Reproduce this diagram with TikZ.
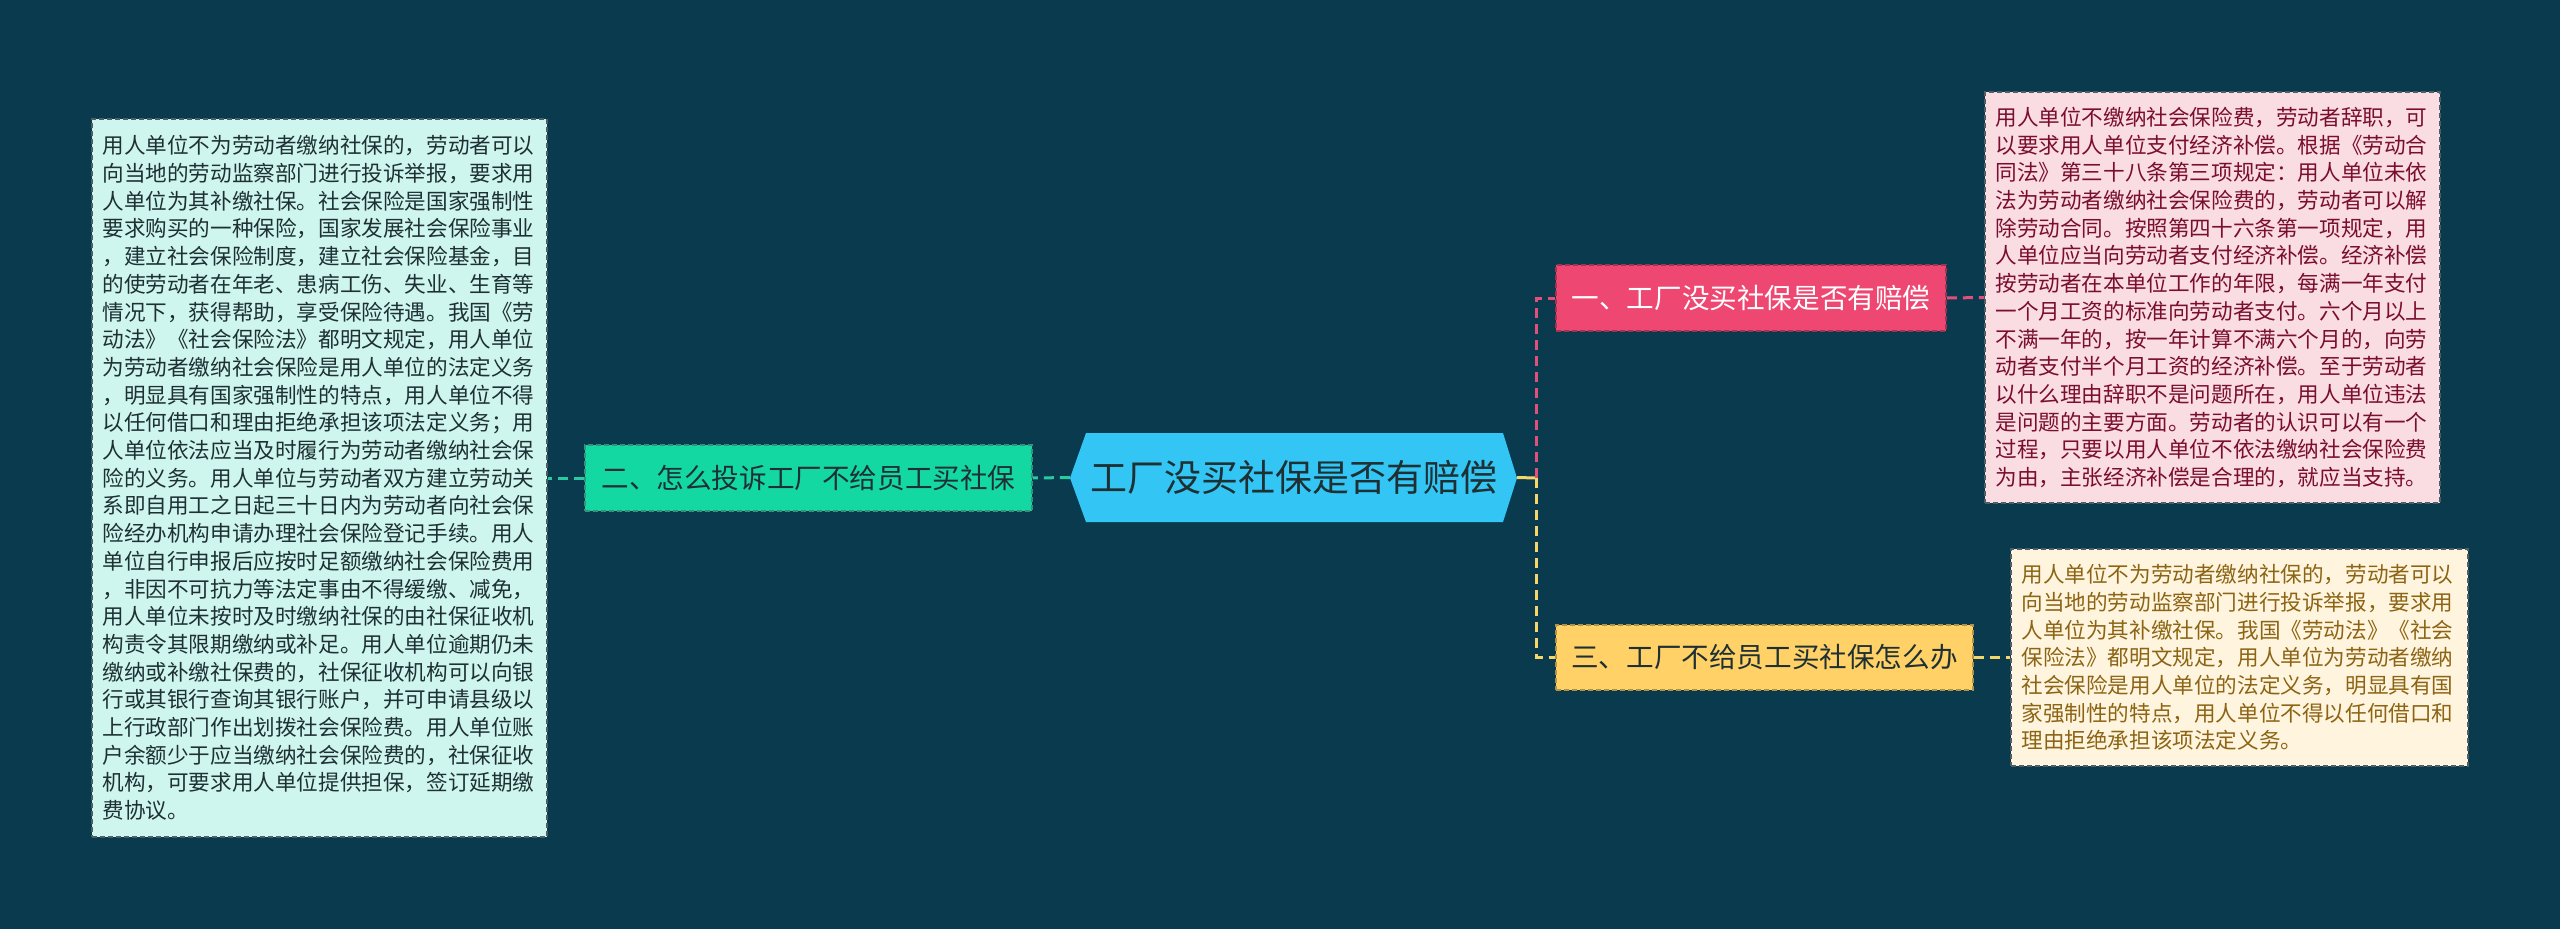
\documentclass[tikz,border=0pt]{standalone}
\usepackage{fontspec}
\newfontfamily\cjk{Noto Sans CJK SC}
\definecolor{bg}{HTML}{093A4E}
\definecolor{tealline}{HTML}{2BC9A0}
\definecolor{pinkline}{HTML}{E0507A}
\definecolor{yelline}{HTML}{F5D66A}
\definecolor{mintfill}{HTML}{CFF6EE}
\definecolor{greenfill}{HTML}{14D8A2}
\definecolor{bluefill}{HTML}{33C6F4}
\definecolor{pinkfill}{HTML}{EE4872}
\definecolor{pinkbox}{HTML}{FADCE3}
\definecolor{yelfill}{HTML}{FFD166}
\definecolor{yelbox}{HTML}{FFF5DF}
\definecolor{darktxt}{HTML}{1E3034}
\definecolor{pinktxt}{HTML}{7A0E2E}
\definecolor{yeltxt}{HTML}{8C6414}
\definecolor{boxborder}{HTML}{4E5E62}
\tikzset{
  textbox/.style={draw=boxborder, line width=1.5pt, dash pattern=on 5pt off 3pt,
    align=left, text width=434pt, inner xsep=10.5pt, inner ysep=0pt,
    font=\cjk\fontsize{21.6pt}{27.7pt}\selectfont},
  branch/.style={draw, line width=1.5pt, dash pattern=on 5pt off 3pt, inner sep=0pt,
    minimum height=66pt, font=\cjk\fontsize{27.6pt}{32pt}\selectfont},
  conn/.style={line width=3pt, dash pattern=on 10pt off 6pt},
}
\begin{document}
\begin{tikzpicture}[x=1pt,y=-1pt]
\fill[bg] (0,0) rectangle (2560,929);
\useasboundingbox (0,0) rectangle (2560,929);

% centre
\fill[bluefill] (1070,478) -- (1086,433) -- (1503,433) -- (1517,478) -- (1503,522) -- (1086,522) -- cycle;
\node[minimum width=447pt, minimum height=89pt, inner sep=0pt, text=darktxt,
  font=\cjk\fontsize{37pt}{40pt}\selectfont] (c) at (1293.5,477.5) {工厂没买社保是否有赔偿};

% branch nodes
\node[branch, fill=greenfill, draw=boxborder!60!greenfill, text=darktxt, minimum width=447pt] (b2) at (808.5,478) {二、怎么投诉工厂不给员工买社保};
\node[branch, fill=pinkfill, draw=pinkfill!70!black, text=white, minimum width=390pt] (b1) at (1751,298) {一、工厂没买社保是否有赔偿};
\node[branch, fill=yelfill, draw=yelfill!70!black, text=darktxt, minimum width=417pt, minimum height=65pt] (b3) at (1764.5,657.5) {三、工厂不给员工买社保怎么办};

% text boxes
\node[textbox, fill=mintfill, text=darktxt, minimum height=718pt] (t2) at (319.5,478) {用人单位不为劳动者缴纳社保的，劳动者可以\\向当地的劳动监察部门进行投诉举报，要求用\\人单位为其补缴社保。社会保险是国家强制性\\要求购买的一种保险，国家发展社会保险事业\\，建立社会保险制度，建立社会保险基金，目\\的使劳动者在年老、患病工伤、失业、生育等\\情况下，获得帮助，享受保险待遇。我国《劳\\动法》《社会保险法》都明文规定，用人单位\\为劳动者缴纳社会保险是用人单位的法定义务\\，明显具有国家强制性的特点，用人单位不得\\以任何借口和理由拒绝承担该项法定义务；用\\人单位依法应当及时履行为劳动者缴纳社会保\\险的义务。用人单位与劳动者双方建立劳动关\\系即自用工之日起三十日内为劳动者向社会保\\险经办机构申请办理社会保险登记手续。用人\\单位自行申报后应按时足额缴纳社会保险费用\\，非因不可抗力等法定事由不得缓缴、减免，\\用人单位未按时及时缴纳社保的由社保征收机\\构责令其限期缴纳或补足。用人单位逾期仍未\\缴纳或补缴社保费的，社保征收机构可以向银\\行或其银行查询其银行账户，并可申请县级以\\上行政部门作出划拨社会保险费。用人单位账\\户余额少于应当缴纳社会保险费的，社保征收\\机构，可要求用人单位提供担保，签订延期缴\\费协议。};

\node[textbox, fill=pinkbox, text=pinktxt, minimum height=411pt] (t1) at (2212.5,297.5) {用人单位不缴纳社会保险费，劳动者辞职，可\\以要求用人单位支付经济补偿。根据《劳动合\\同法》第三十八条第三项规定：用人单位未依\\法为劳动者缴纳社会保险费的，劳动者可以解\\除劳动合同。按照第四十六条第一项规定，用\\人单位应当向劳动者支付经济补偿。经济补偿\\按劳动者在本单位工作的年限，每满一年支付\\一个月工资的标准向劳动者支付。六个月以上\\不满一年的，按一年计算不满六个月的，向劳\\动者支付半个月工资的经济补偿。至于劳动者\\以什么理由辞职不是问题所在，用人单位违法\\是问题的主要方面。劳动者的认识可以有一个\\过程，只要以用人单位不依法缴纳社会保险费\\为由，主张经济补偿是合理的，就应当支持。};

\node[textbox, fill=yelbox, text=yeltxt, minimum height=217pt, text width=436pt] (t3) at (2239.5,657.5) {用人单位不为劳动者缴纳社保的，劳动者可以\\向当地的劳动监察部门进行投诉举报，要求用\\人单位为其补缴社保。我国《劳动法》《社会\\保险法》都明文规定，用人单位为劳动者缴纳\\社会保险是用人单位的法定义务，明显具有国\\家强制性的特点，用人单位不得以任何借口和\\理由拒绝承担该项法定义务。};

% connectors
\coordinate (j) at (1536,478);
\draw[conn, tealline] (c.west) -- (b2.east);
\draw[conn, tealline] (b2.west) -- (t2.east);
\draw[line width=3pt, yelline] (c.east) -- (j);
\draw[conn, yelline] (j) |- (b3.west);
\draw[conn, pinkline] (j) |- (b1.west);
\draw[conn, pinkline] (b1.east) -- (t1.west);
\draw[conn, yelline] (b3.east) -- (t3.west);
\end{tikzpicture}
\end{document}
